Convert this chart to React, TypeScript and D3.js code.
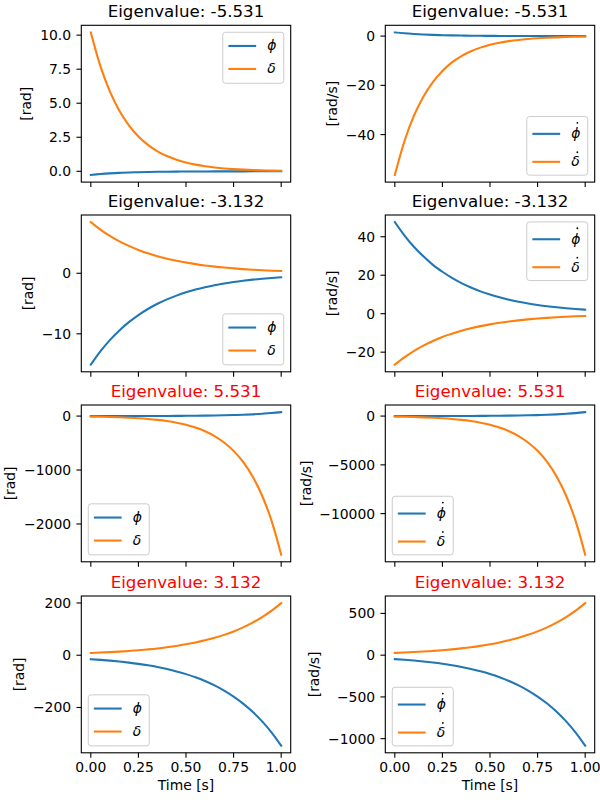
import React, { useEffect, useRef } from 'react';
import * as d3 from 'd3';

// time samples [s]
const time = [0, 0.05, 0.1, 0.15, 0.2, 0.25, 0.3, 0.35, 0.4, 0.45, 0.5, 0.55, 0.6, 0.65, 0.7, 0.75, 0.8, 0.85, 0.9, 0.95, 1.0];

const eigenvalues = ['-5.531', '-3.132', '5.531', '3.132'];
const titleColors = ['black', 'black', 'red', 'red'];

// angles [rad]
const phiA1 = [-0.27, -0.205, -0.155, -0.118, -0.089, -0.068, -0.051, -0.039, -0.03, -0.022, -0.017, -0.013, -0.01, -0.007, -0.006, -0.004, -0.003, -0.002, -0.002, -0.001, -0.001];
const deltaA1 = [10.2, 7.74, 5.87, 4.45, 3.38, 2.56, 1.94, 1.47, 1.12, 0.85, 0.64, 0.49, 0.37, 0.28, 0.21, 0.16, 0.12, 0.09, 0.07, 0.05, 0.04];
const phiA2 = [-15.1, -12.91, -11.04, -9.44, -8.07, -6.9, -5.9, -5.04, -4.31, -3.69, -3.15, -2.7, -2.31, -1.97, -1.69, -1.44, -1.23, -1.05, -0.9, -0.77, -0.66];
const deltaA2 = [8.45, 7.22, 6.18, 5.28, 4.52, 3.86, 3.3, 2.82, 2.41, 2.06, 1.77, 1.51, 1.29, 1.1, 0.94, 0.81, 0.69, 0.59, 0.5, 0.43, 0.37];
const phiA3 = [0.29, 0.38, 0.5, 0.66, 0.88, 1.16, 1.52, 2.01, 2.65, 3.49, 4.61, 6.07, 8.01, 10.6, 13.9, 18.4, 24.2, 31.9, 42.1, 55.5, 73.2];
const deltaA3 = [-10.2, -13.4, -17.7, -23.3, -30.8, -40.6, -53.5, -70.5, -93.0, -122.6, -161.7, -213.2, -281.2, -370.8, -488.8, -644.6, -849.8, -1120.6, -1477, -1948, -2569];
const phiA4 = [-15.1, -17.7, -20.7, -24.2, -28.3, -33.0, -38.6, -45.2, -52.9, -61.8, -72.3, -84.5, -98.9, -115.6, -135.3, -158.2, -185.0, -216.4, -253.0, -295.9, -346.1];
const deltaA4 = [8.7, 10.2, 11.9, 13.9, 16.3, 19.0, 22.3, 26.0, 30.5, 35.6, 41.7, 48.7, 57.0, 66.6, 77.9, 91.1, 106.6, 124.7, 145.8, 170.5, 199.4];

// rates [rad/s]
const phiR1 = [1.49, 1.13, 0.86, 0.65, 0.49, 0.37, 0.28, 0.22, 0.16, 0.12, 0.09, 0.07, 0.05, 0.04, 0.03, 0.02, 0.02, 0.01, 0.01, 0.01, 0.01];
const deltaR1 = [-56.4, -42.8, -32.4, -24.6, -18.7, -14.2, -10.7, -8.14, -6.18, -4.68, -3.55, -2.7, -2.04, -1.55, -1.18, -0.89, -0.68, -0.51, -0.39, -0.29, -0.22];
const phiR2 = [47.6, 40.7, 34.8, 29.8, 25.4, 21.8, 18.6, 15.9, 13.6, 11.6, 9.94, 8.5, 7.27, 6.22, 5.32, 4.55, 3.88, 3.32, 2.84, 2.43, 2.08];
const deltaR2 = [-26.5, -22.7, -19.4, -16.6, -14.2, -12.1, -10.4, -8.85, -7.57, -6.47, -5.54, -4.73, -4.05, -3.46, -2.96, -2.53, -2.16, -1.85, -1.58, -1.35, -1.16];
const phiR3 = [1.6, 2.11, 2.79, 3.67, 4.85, 6.38, 8.43, 11.1, 14.7, 19.3, 25.5, 33.5, 44.3, 58.3, 77.0, 101.3, 134, 176, 233, 306, 405];
const deltaR3 = [-56.3, -74.2, -97.9, -129, -170, -224, -296, -390, -514, -678, -894, -1179, -1555, -2050, -2704, -3565, -4700, -6197, -8169, -10776, -14210];
const phiR4 = [-47.3, -55.3, -64.7, -75.7, -88.5, -103.5, -121.0, -141.6, -165.6, -193.6, -226.4, -264.8, -309.7, -362.2, -423.7, -495.5, -579.5, -677.8, -792.6, -927.0, -1084];
const deltaR4 = [27.2, 31.8, 37.2, 43.5, 50.9, 59.5, 69.6, 81.4, 95.2, 111.3, 130.2, 152.3, 178.1, 208.3, 243.6, 284.9, 333.3, 389.7, 455.8, 533.1, 623.4];

const xTicks = [0, 0.25, 0.5, 0.75, 1];
const yTicksAngle = [[0, 2.5, 5, 7.5, 10], [-10, 0], [-2000, -1000, 0], [-200, 0, 200]];
const yTicksRate = [[-40, -20, 0], [-20, 0, 20, 40], [-10000, -5000, 0], [-1000, -500, 0, 500]];
const legendLocAngle = ['upper right', 'lower right', 'lower left', 'lower left'];
const legendLocRate = ['lower right', 'upper right', 'lower left', 'lower left'];

const angleSeries = [[phiA1, deltaA1], [phiA2, deltaA2], [phiA3, deltaA3], [phiA4, deltaA4]];
const rateSeries = [[phiR1, deltaR1], [phiR2, deltaR2], [phiR3, deltaR3], [phiR4, deltaR4]];

const colors = ['#1f77b4', '#ff7f0e'];
const FONT = 'DejaVu Sans, sans-serif';
const colLeft = [81.3, 385.3];
const rowTop = [25.3, 215, 405, 596];
const W = 209.4;
const H = 156.8;

type Panel = {
  row: number;
  col: number;
  values: number[][];
  yTicks: number[];
  ylabel: string;
  loc: string;
  dotted: boolean;
};

const panels: Panel[] = [];
for (let r = 0; r < 4; r += 1) {
  panels.push({ row: r, col: 0, values: angleSeries[r], yTicks: yTicksAngle[r], ylabel: '[rad]', loc: legendLocAngle[r], dotted: false });
  panels.push({ row: r, col: 1, values: rateSeries[r], yTicks: yTicksRate[r], ylabel: '[rad/s]', loc: legendLocRate[r], dotted: true });
}

function drawPanel(svg: any, p: Panel) {
  const left = colLeft[p.col];
  const top = rowTop[p.row];
  const x = d3.scaleLinear().domain([-0.05, 1.05]).range([left, left + W]);
  const all = p.values.flat();
  const lo = d3.min(all) as number;
  const hi = d3.max(all) as number;
  const pad = (hi - lo) * 0.05;
  const y = d3.scaleLinear().domain([lo - pad, hi + pad]).range([top + H, top]);

  const g = svg.append('g');

  // curves
  const line = d3.line<number>()
    .x((d, i) => x(time[i]))
    .y((d) => y(d))
    .curve(d3.curveMonotoneX);
  p.values.forEach((vals, i) => {
    g.append('path')
      .attr('d', line(vals))
      .attr('fill', 'none')
      .attr('stroke', colors[i])
      .attr('stroke-width', 2.08)
      .attr('stroke-linecap', 'square');
  });

  // frame
  g.append('rect')
    .attr('x', left).attr('y', top)
    .attr('width', W).attr('height', H)
    .attr('fill', 'none').attr('stroke', 'black').attr('stroke-width', 1.1);

  // x ticks
  const bottom = top + H;
  xTicks.forEach((t) => {
    g.append('line')
      .attr('x1', x(t)).attr('x2', x(t))
      .attr('y1', bottom).attr('y2', bottom + 4.86)
      .attr('stroke', 'black').attr('stroke-width', 1.1);
    if (p.row === 3) {
      g.append('text')
        .attr('x', x(t)).attr('y', bottom + 19.5)
        .attr('text-anchor', 'middle')
        .attr('font-family', FONT).attr('font-size', 13.9)
        .text(d3.format('.2f')(t));
    }
  });
  if (p.row === 3) {
    g.append('text')
      .attr('x', left + W / 2).attr('y', bottom + 37.5)
      .attr('text-anchor', 'middle')
      .attr('font-family', FONT).attr('font-size', 13.9)
      .text('Time [s]');
  }

  // y ticks
  const fmt = p.yTicks.some((v) => !Number.isInteger(v)) ? d3.format('.1f') : d3.format('d');
  const tickLabels = g.append('g');
  p.yTicks.forEach((v) => {
    g.append('line')
      .attr('x1', left - 4.86).attr('x2', left)
      .attr('y1', y(v)).attr('y2', y(v))
      .attr('stroke', 'black').attr('stroke-width', 1.1);
    tickLabels.append('text')
      .attr('x', left - 10.2).attr('y', y(v))
      .attr('dy', '0.36em')
      .attr('text-anchor', 'end')
      .attr('font-family', FONT).attr('font-size', 13.9)
      .text(fmt(v));
  });
  const bb = tickLabels.node().getBBox();
  const lx = bb.x - 5.56 - 3.2;
  g.append('text')
    .attr('transform', `translate(${lx},${top + H / 2}) rotate(-90)`)
    .attr('text-anchor', 'middle')
    .attr('font-family', FONT).attr('font-size', 13.9)
    .text(p.ylabel);

  // title
  g.append('text')
    .attr('x', left + W / 2).attr('y', top - 8.33)
    .attr('text-anchor', 'middle')
    .attr('font-family', FONT).attr('font-size', 16.67)
    .attr('fill', titleColors[p.row])
    .text(`Eigenvalue: ${eigenvalues[p.row]}`);

  // legend
  const bw = 61;
  const bh = p.dotted ? 58.6 : 51;
  const bx = p.loc.endsWith('right') ? left + W - 6.95 - bw : left + 6.95;
  const by = p.loc.startsWith('upper') ? top + 6.95 : bottom - 6.95 - bh;
  const rows = p.dotted ? [17.3, 45.3] : [13.7, 36.7];
  const names = ['ϕ', 'δ'];
  const leg = g.append('g');
  leg.append('rect')
    .attr('x', bx).attr('y', by).attr('width', bw).attr('height', bh)
    .attr('rx', 2.8)
    .attr('fill', 'white').attr('fill-opacity', 0.8)
    .attr('stroke', '#cccccc').attr('stroke-width', 1);
  rows.forEach((ry, i) => {
    leg.append('line')
      .attr('x1', bx + 5.6).attr('x2', bx + 33.4)
      .attr('y1', by + ry).attr('y2', by + ry)
      .attr('stroke', colors[i]).attr('stroke-width', 2.08);
    leg.append('text')
      .attr('x', bx + 44.5).attr('y', by + ry + 4.5)
      .attr('font-family', FONT).attr('font-size', 13.9)
      .attr('font-style', 'italic')
      .text(names[i]);
    if (p.dotted) {
      leg.append('circle')
        .attr('cx', bx + 50.6).attr('cy', by + ry - (i === 0 ? 11 : 9.6))
        .attr('r', 0.9)
        .attr('fill', 'black');
    }
  });
}

export default function App() {
  const ref = useRef<SVGSVGElement>(null);
  useEffect(() => {
    const svg = d3.select(ref.current);
    svg.selectAll('*').remove();
    panels.forEach((p) => drawPanel(svg, p));
  }, []);
  return (
    <div style={{ position: 'absolute', left: 0, top: 0 }}>
      <svg ref={ref} width={600} height={800} style={{ display: 'block', background: 'white' }} />
    </div>
  );
}
